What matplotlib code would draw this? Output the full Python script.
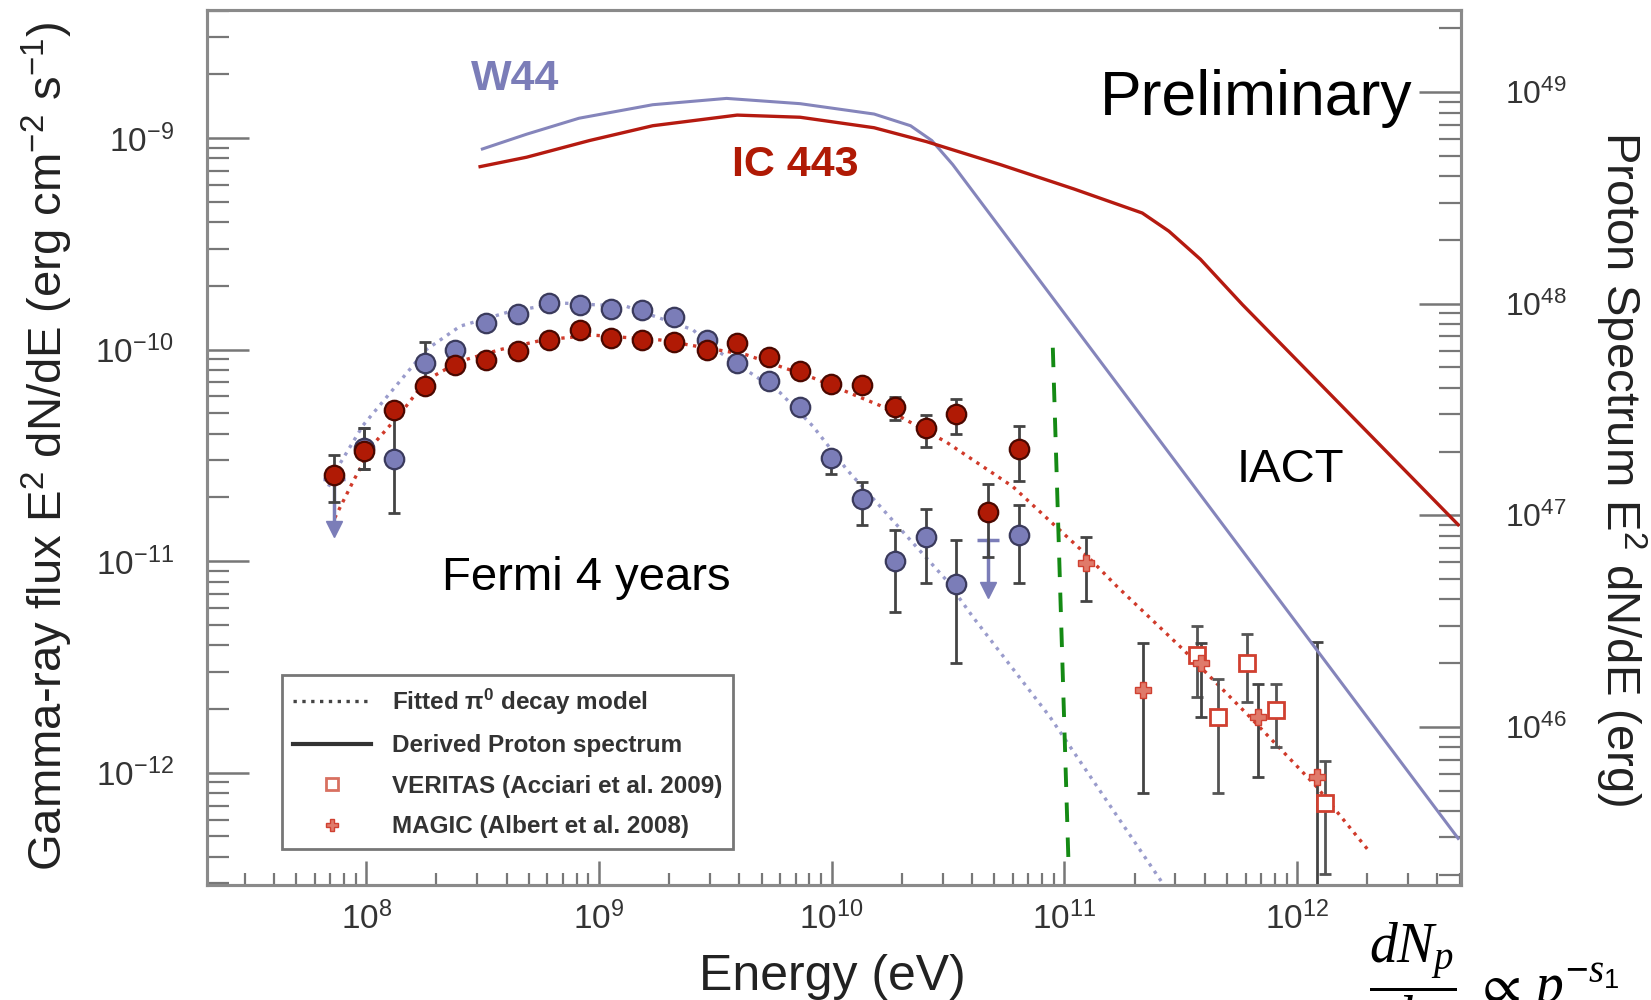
import numpy as np
import matplotlib.pyplot as plt
from matplotlib.lines import Line2D
from matplotlib.ticker import LogLocator, NullFormatter

plt.rcParams['font.family'] = ['Liberation Sans', 'DejaVu Sans']
plt.rcParams['mathtext.default'] = 'regular'
plt.rcParams['mathtext.fontset'] = 'custom'
plt.rcParams['mathtext.it'] = 'Liberation Serif:italic'
plt.rcParams['mathtext.rm'] = 'Liberation Serif'

nan = np.nan

# Fermi-LAT bins (eV)
fermi_E = np.array([7.24e7, 9.80e7, 1.32e8, 1.79e8, 2.40e8, 3.28e8, 4.49e8, 6.07e8,
                    8.30e8, 1.12e9, 1.53e9, 2.09e9, 2.92e9, 3.92e9, 5.36e9, 7.31e9,
                    9.90e9, 1.35e10, 1.87e10, 2.55e10, 3.42e10, 4.68e10, 6.38e10])

# W44 gamma-ray flux (erg cm^-2 s^-1)
w44_flux = np.array([2.44e-11, 3.44e-11, 3.04e-11, 8.61e-11, 1.00e-10, 1.33e-10, 1.48e-10,
                     1.66e-10, 1.62e-10, 1.55e-10, 1.53e-10, 1.43e-10, 1.11e-10, 8.61e-11,
                     7.09e-11, 5.38e-11, 3.07e-11, 1.97e-11, 1.00e-11, 1.30e-11, 7.78e-12,
                     1.26e-11, 1.33e-11])
w44_lo = np.array([nan, 2.74e-11, 1.68e-11, 7.26e-11, nan, nan, nan, nan, nan, nan, nan, nan,
                   nan, nan, nan, nan, 2.59e-11, 1.49e-11, 5.77e-12, 7.87e-12, 3.29e-12, nan,
                   7.87e-12])
w44_hi = np.array([nan, 4.24e-11, 5.44e-11, 1.08e-10, nan, nan, nan, nan, nan, nan, nan, nan,
                   nan, nan, nan, nan, 3.18e-11, 2.36e-11, 1.41e-11, 1.77e-11, 1.26e-11, nan,
                   1.84e-11])
w44_ul = [0, 21]

# IC 443 gamma-ray flux
ic_flux = np.array([2.56e-11, 3.33e-11, 5.20e-11, 6.70e-11, 8.42e-11, 8.92e-11, 9.89e-11,
                    1.11e-10, 1.24e-10, 1.14e-10, 1.11e-10, 1.08e-10, 1.00e-10, 1.07e-10,
                    9.23e-11, 7.94e-11, 6.85e-11, 6.77e-11, 5.38e-11, 4.24e-11, 4.98e-11,
                    1.71e-11, 3.40e-11])
ic_lo = np.array([1.90e-11, 2.74e-11, nan, nan, nan, nan, nan, nan, nan, nan, nan, nan,
                  nan, nan, nan, nan, nan, nan, 4.65e-11, 3.48e-11, 4.00e-11, 1.05e-11,
                  2.39e-11])
ic_hi = np.array([3.18e-11, 4.24e-11, nan, nan, nan, nan, nan, nan, nan, nan, nan, nan,
                  nan, nan, nan, nan, nan, nan, 5.97e-11, 4.92e-11, 5.83e-11, 2.31e-11,
                  4.33e-11])

# VERITAS (Acciari et al. 2009)
veritas_E = np.array([3.72e11, 4.58e11, 6.07e11, 8.13e11, 1.32e12])
veritas_flux = np.array([3.61e-12, 1.84e-12, 3.29e-12, 1.99e-12, 7.18e-13])
veritas_lo = np.array([2.28e-12, 8.04e-13, 2.15e-12, 1.33e-12, 3.33e-13])
veritas_hi = np.array([4.92e-12, 2.77e-12, 4.54e-12, 2.62e-12, 1.14e-12])

# MAGIC (Albert et al. 2008)
magic_E = np.array([1.24e11, 2.18e11, 3.87e11, 6.81e11, 1.22e12])
magic_flux = np.array([9.77e-12, 2.47e-12, 3.29e-12, 1.84e-12, 9.55e-13])
magic_lo = np.array([6.47e-12, 8.04e-13, 1.84e-12, 9.55e-13, 2.5e-13])
magic_hi = np.array([1.30e-11, 4.09e-12, 4.09e-12, 2.62e-12, 4.14e-12])

# fitted pi0 decay models
w44_fit_E = np.array([6.87e7, 7.71e7, 9.68e7, 1.30e8, 1.81e8, 2.53e8, 4.12e8, 6.81e8, 1.31e9,
                      2.53e9, 3.08e9, 6.00e9, 8.30e9, 1.16e10, 1.61e10, 2.23e10, 3.11e10,
                      4.04e10, 8.65e10, 2.66e11])
w44_fit = np.array([2.25e-11, 2.90e-11, 4.39e-11, 6.47e-11, 1.00e-10, 1.29e-10, 1.51e-10,
                    1.66e-10, 1.60e-10, 1.24e-10, 1.02e-10, 6.25e-11, 4.34e-11, 2.71e-11,
                    1.82e-11, 1.22e-11, 8.13e-12, 5.45e-12, 1.84e-12, 2.97e-13])
ic_fit_E = np.array([7.31e7, 8.83e7, 1.08e8, 1.40e8, 1.81e8, 2.53e8, 3.76e8, 5.75e8, 9.40e8,
                     1.83e9, 4.30e9, 8.30e9, 1.61e10, 3.11e10, 6.00e10, 1.17e11, 1.68e11,
                     3.24e11, 6.25e11, 1.21e12, 2.01e12])
ic_fit = np.array([1.60e-11, 2.42e-11, 3.61e-11, 4.98e-11, 7.18e-11, 8.81e-11, 1.00e-10,
                   1.11e-10, 1.17e-10, 1.11e-10, 9.44e-11, 7.35e-11, 5.44e-11, 3.65e-11,
                   2.25e-11, 1.14e-11, 7.60e-12, 3.82e-12, 1.84e-12, 8.61e-13, 4.34e-13])

# derived proton spectra (erg, right axis)
w44_p_E = np.array([3.15e8, 4.88e8, 8.20e8, 1.70e9, 3.53e9, 7.31e9, 1.52e10, 2.18e10,
                    2.69e10, 3.31e10, 4.92e12])
w44_p = np.array([5.38e48, 6.32e48, 7.52e48, 8.71e48, 9.33e48, 8.81e48, 7.87e48, 6.93e48,
                  5.90e48, 4.54e48, 2.97e45])
ic_p_E = np.array([3.08e8, 4.88e8, 9.10e8, 1.70e9, 3.92e9, 7.31e9, 1.52e10, 2.55e10, 5.30e10,
                   1.10e11, 2.16e11, 2.81e11, 3.84e11, 5.82e11, 4.92e12])
ic_p = np.array([4.44e48, 4.92e48, 5.90e48, 6.93e48, 7.78e48, 7.60e48, 6.78e48, 5.83e48,
                 4.54e48, 3.48e48, 2.68e48, 2.20e48, 1.62e48, 9.89e47, 9.02e46])

# IACT threshold line
iact_E = [8.91e10, 1.04e11]
iact_flux = [1.02e-10, 3.82e-13]

blue = '#7b7db8'
blue_edge = '#3a3a5c'
red = '#b01a05'
red_edge = '#4a0800'
tev_red = '#d04030'
grey = '#777777'

fig = plt.figure(figsize=(16.51, 10), dpi=100)
ax = fig.add_axes([0.1254, 0.1155, 0.7595, 0.875])
ax.set_xscale('log')
ax.set_yscale('log')
ax.set_xlim(10**7.315, 10**12.704)
ax.set_ylim(10**-12.528, 10**-8.393)

# fits
ax.plot(w44_fit_E, w44_fit, ':', color='#9a9ccc', lw=2.4, zorder=2)
ax.plot(ic_fit_E, ic_fit, ':', color='#d03a2a', lw=2.4, zorder=2)

# IACT line
ax.plot(iact_E, iact_flux, '--', color='#148a14', lw=2.8, dashes=(5, 4), zorder=2)


def draw_points(flux, lo, hi, face, edge, ul=()):
    m = ~np.isnan(lo)
    ax.errorbar(fermi_E[m], flux[m], yerr=[flux[m] - lo[m], hi[m] - flux[m]], fmt='none',
                ecolor='#444444', elinewidth=2, capsize=4, capthick=2, zorder=3)
    keep = np.array([i not in ul for i in range(len(flux))])
    ax.plot(fermi_E[keep], flux[keep], 'o', ms=14, mfc=face, mec=edge, mew=1.6, zorder=4)
    for i in ul:
        ax.plot([fermi_E[i], fermi_E[i]], [flux[i], flux[i] * 0.6], color=face, lw=2.5, zorder=3)
        ax.plot(fermi_E[i], flux[i] * 0.58, 'v', ms=11, color=face, zorder=3)
        ax.plot(fermi_E[i], flux[i], '_', ms=16, mew=2.5, color=face, zorder=3)


draw_points(w44_flux, w44_lo, w44_hi, blue, blue_edge, w44_ul)
draw_points(ic_flux, ic_lo, ic_hi, red, red_edge)

# TeV data
ax.errorbar(veritas_E, veritas_flux, yerr=[veritas_flux - veritas_lo, veritas_hi - veritas_flux],
            fmt='none', ecolor='#555555', elinewidth=2, capsize=4, capthick=2, zorder=3)
ax.errorbar(magic_E, magic_flux, yerr=[magic_flux - magic_lo, magic_hi - magic_flux],
            fmt='none', ecolor='#444444', elinewidth=2, capsize=4, capthick=2, zorder=3)
ax.plot(veritas_E, veritas_flux, 's', ms=12, mfc='white', mec=tev_red, mew=2, zorder=4)
ax.plot(magic_E, magic_flux, 'P', ms=11, mfc='#e07a6a', mec=tev_red, mew=1, zorder=4)

# proton spectra on right axis
ax2 = ax.twinx()
ax2.set_yscale('log')
ax2.set_ylim(10**45.255, 10**49.39)
ax2.plot(w44_p_E, w44_p, color='#8585bb', lw=2.2)
ax2.plot(ic_p_E, ic_p, color='#b51a10', lw=2.4)

# ticks and spines
for a in (ax, ax2):
    for s in a.spines.values():
        s.set_color('#8a8a8a')
        s.set_linewidth(2.2)
ax.xaxis.set_major_locator(LogLocator(base=10, numticks=20))
ax.xaxis.set_minor_locator(LogLocator(base=10, subs=np.arange(2, 10), numticks=20))
ax.xaxis.set_minor_formatter(NullFormatter())
ax.tick_params(axis='x', which='major', direction='in', length=17, width=1.8, color=grey,
               pad=12, labelsize=24, labelcolor='#333333')
ax.tick_params(axis='x', which='minor', direction='in', length=9, width=1.6, color=grey)
ax.tick_params(axis='y', which='major', direction='in', length=30, width=1.8, color=grey,
               pad=24, labelsize=24, labelcolor='#333333')
ax.tick_params(axis='y', which='minor', direction='in', length=16, width=1.6, color=grey)
ax.tick_params(which='both', top=False, right=False)
ax2.tick_params(axis='y', which='major', direction='in', length=30, width=1.8, color=grey,
                pad=32, labelsize=23, labelcolor='#333333')
ax2.tick_params(axis='y', which='minor', direction='in', length=16, width=1.6, color=grey)

ax.set_xlabel('Energy (eV)', fontsize=36, color='#222222', va='baseline')
ax.xaxis.set_label_coords(0.499, -0.1206)
ax.set_ylabel(r'Gamma-ray flux E$^2$ dN/dE (erg cm$^{-2}$ s$^{-1}$)', fontsize=34,
              color='#222222', va='center')
ax.yaxis.set_label_coords(-0.1276, 0.5)
ax2.set_ylabel(r'Proton Spectrum E$^2$ dN/dE (erg)', fontsize=34, color='#222222',
               rotation=-90, va='center')
ax2.yaxis.set_label_coords(1.1276, 0.4753)

# annotations
ax.text(0.246, 0.921, 'W44', transform=ax.transAxes, fontsize=31, fontweight='bold',
        color='#7b7db8', ha='center', va='center')
ax.text(0.469, 0.822, 'IC 443', transform=ax.transAxes, fontsize=31, fontweight='bold',
        color='#b01a05', ha='center', va='center')
ax.text(0.712, 0.879, 'Preliminary', transform=ax.transAxes, fontsize=45, va='baseline')
ax.text(0.821, 0.4605, 'IACT', transform=ax.transAxes, fontsize=34, va='baseline')
ax.text(0.187, 0.337, 'Fermi 4 years', transform=ax.transAxes, fontsize=34, va='baseline')

handles = [
    Line2D([], [], ls=':', color='#444444', lw=2.4),
    Line2D([], [], ls='-', color='#333333', lw=3),
    Line2D([], [], ls='none', marker='s', ms=9, mfc='white', mec='#d87060', mew=2),
    Line2D([], [], ls='none', marker='P', ms=9, mfc='#e07a6a', mec=tev_red, mew=1),
]
labels = [r'Fitted $\pi^0$ decay model', 'Derived Proton spectrum',
          'VERITAS (Acciari et al. 2009)', 'MAGIC (Albert et al. 2008)']
leg = ax.legend(handles, labels, loc='lower left', bbox_to_anchor=(0.060, 0.0406),
                borderaxespad=0, fancybox=False, framealpha=1, edgecolor='#777777',
                prop={'weight': 'bold', 'size': 17.5}, handlelength=3.2, handletextpad=0.86,
                labelspacing=0.72, borderpad=0.45)
leg.get_frame().set_linewidth(2)
for t in leg.get_texts():
    t.set_color('#333333')

fig.text(0.829, -0.003,
         r'$\dfrac{\mathit{dN_p}}{\mathit{dp}}\ \propto\, \mathit{p}^{-\mathit{s}_1}$',
         fontsize=40, va='baseline', ha='left')

fig.savefig('out.png', dpi=100)
